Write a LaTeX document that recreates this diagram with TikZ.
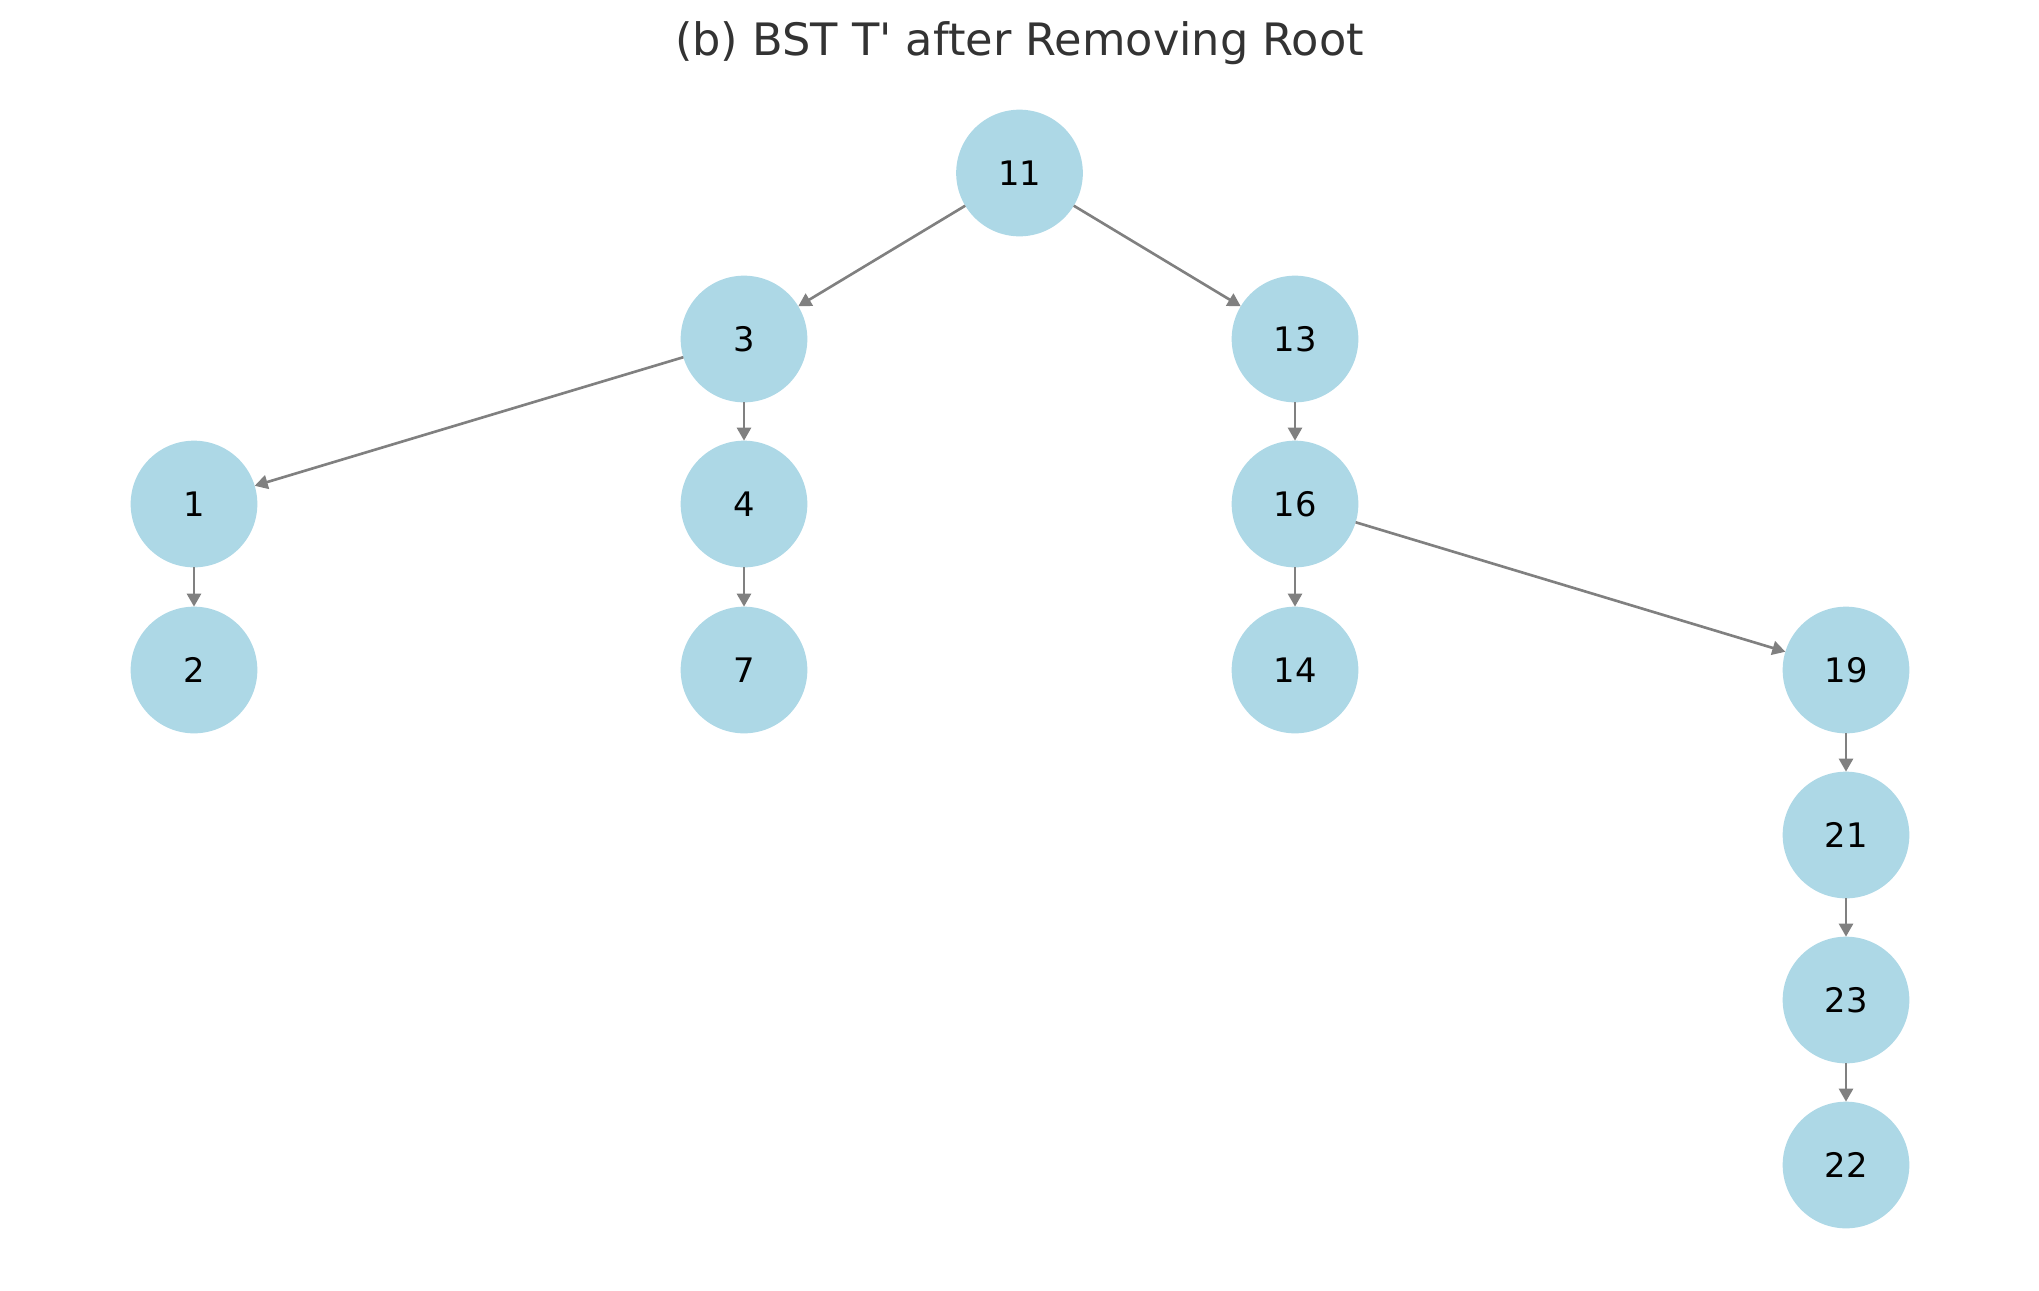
\documentclass[tikz,border=0pt]{standalone}
\usepackage{fontspec}
\setmainfont{DejaVu Sans}[Ligatures=TeXOff]
\usetikzlibrary{arrows.meta}
\definecolor{azulclaro}{HTML}{ADD8E6}
\definecolor{cinza}{HTML}{808080}
\definecolor{cinzaescuro}{HTML}{333333}
\begin{document}
\begin{tikzpicture}[x=0.01cm, y=-0.01cm,
    no/.style={circle, fill=azulclaro, minimum size=1.266cm, inner sep=0pt, outer sep=0pt, font=\fontsize{9.6}{11}\selectfont},
    aresta/.style={draw=cinza, line width=0.75pt, -{Triangle[width=0.14cm, length=0.13cm]}}]
    \useasboundingbox (0,0) rectangle (2039,1290);

    % Titulo
    \node[anchor=base, text=cinzaescuro, font=\fontsize{12.7}{15}\selectfont] (titulo) at (1019.5,55) {(b) BST T' after Removing Root};

    % Nós da árvore
    \node[no] (n11) at (1019.5,173) {11};
    \node[no] (n3) at (744,339) {3};
    \node[no] (n13) at (1295,339) {13};
    \node[no] (n1) at (194,504) {1};
    \node[no] (n4) at (744,504) {4};
    \node[no] (n16) at (1295,504) {16};
    \node[no] (n2) at (194,670) {2};
    \node[no] (n7) at (744,670) {7};
    \node[no] (n14) at (1295,670) {14};
    \node[no] (n19) at (1846,670) {19};
    \node[no] (n21) at (1846,835) {21};
    \node[no] (n23) at (1846,1000) {23};
    \node[no] (n22) at (1846,1165) {22};

    % Arestas
    \draw[aresta] (n11) -- (n3);
    \draw[aresta] (n11) -- (n13);
    \draw[aresta] (n3) -- (n1);
    \draw[aresta] (n3) -- (n4);
    \draw[aresta] (n13) -- (n16);
    \draw[aresta] (n1) -- (n2);
    \draw[aresta] (n4) -- (n7);
    \draw[aresta] (n16) -- (n14);
    \draw[aresta] (n16) -- (n19);
    \draw[aresta] (n19) -- (n21);
    \draw[aresta] (n21) -- (n23);
    \draw[aresta] (n23) -- (n22);
\end{tikzpicture}
\end{document}
